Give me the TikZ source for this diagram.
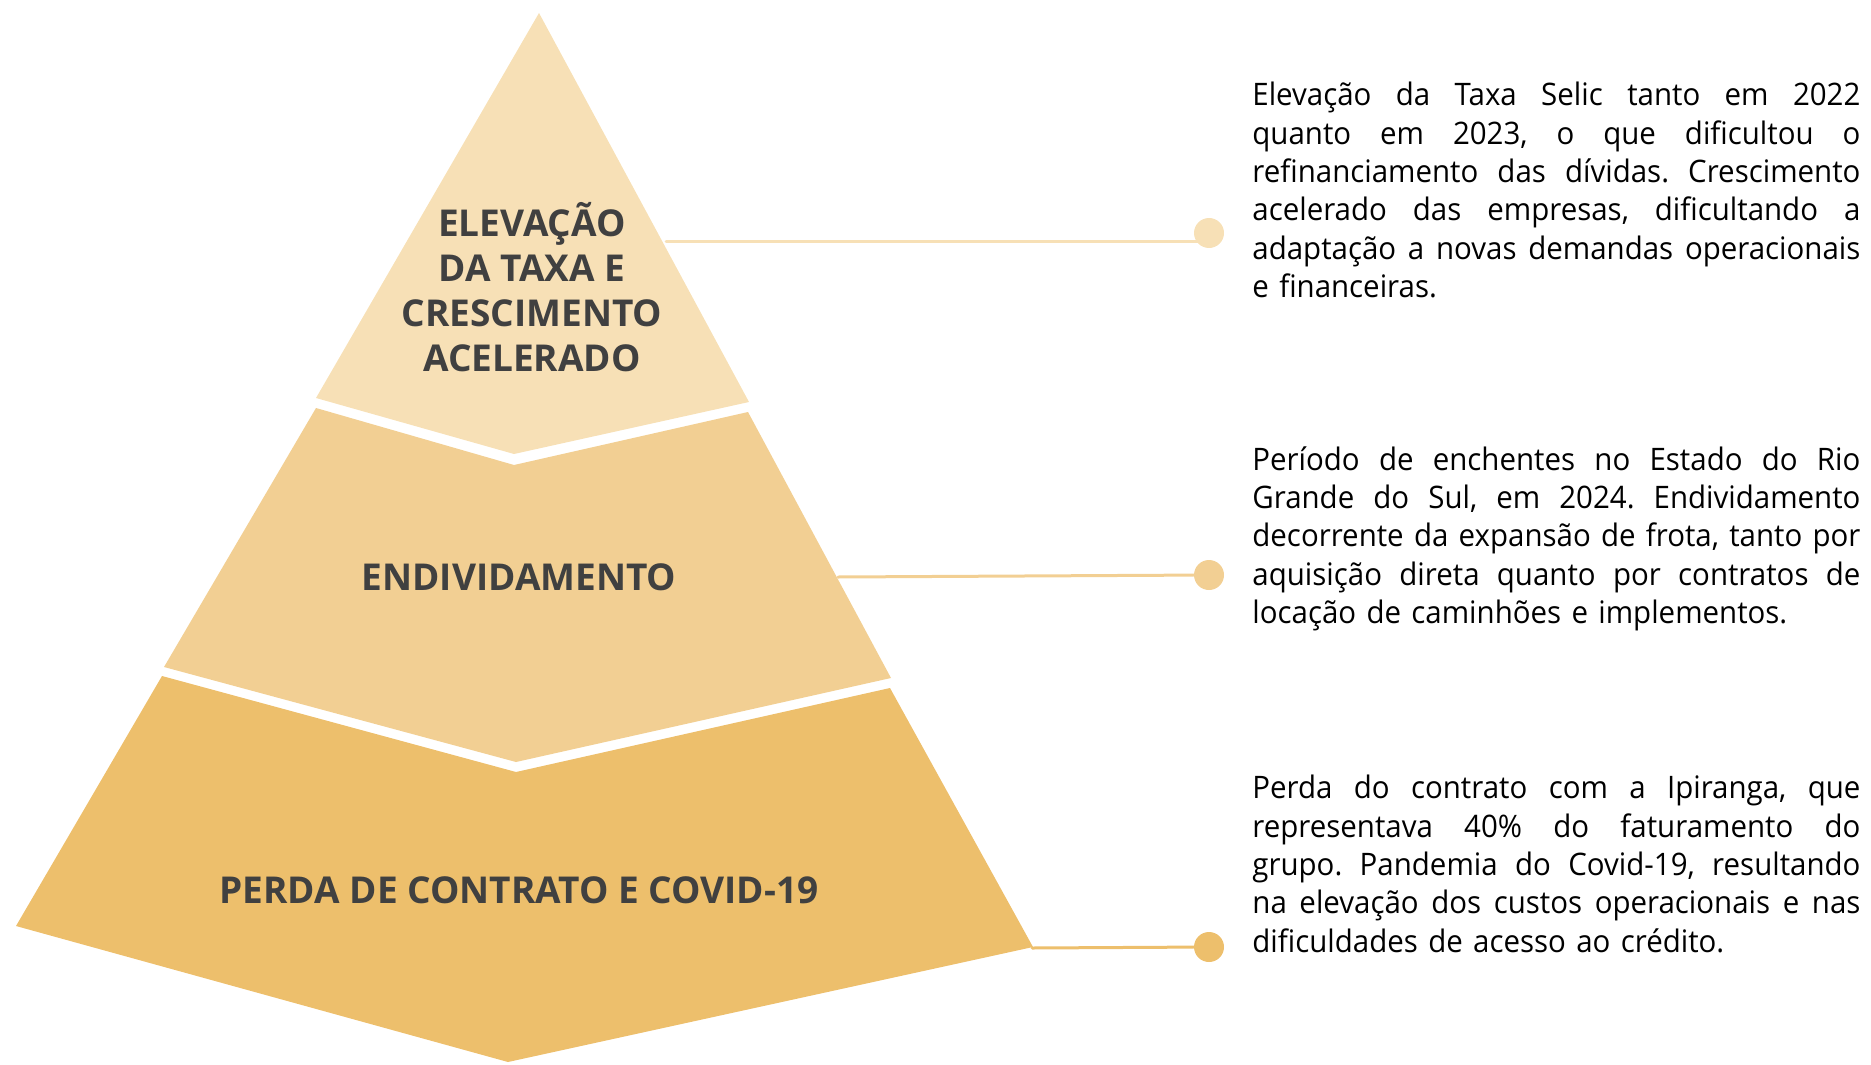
\documentclass[tikz,border=0pt]{standalone}
\usepackage{fontspec}
\setmainfont{Open Sans}
\newfontfamily\notefont[FakeStretch=0.95]{Open Sans}
\definecolor{tiertop}{HTML}{F7E0B6}
\definecolor{tiermid}{HTML}{F2CF93}
\definecolor{tierbot}{HTML}{EDBF6C}
\definecolor{labelgray}{HTML}{404040}
\newlength{\notewidth}
\setlength{\notewidth}{304pt}
\newcommand{\jline}[1]{\makebox[\notewidth][s]{\spaceskip=0pt\xspaceskip=0pt #1}\\}
\frenchspacing

\begin{document}
\begin{tikzpicture}[x=0.5pt, y=-0.5pt, line cap=round, line join=round,
    tierlabel/.style={font=\fontsize{18.5}{22.4}\selectfont\bfseries, text=labelgray, align=center, inner sep=0pt},
    notetext/.style={anchor=north west, inner sep=0pt, text width=\notewidth, align=left, font=\notefont\fontsize{15.5}{19.15}\selectfont},
    bullet/.style={circle, inner sep=0pt, minimum size=15pt},
    link/.style={line width=1.5pt}]

    \useasboundingbox (0,0) rectangle (1871,1064);

    % pyramid tiers
    \fill[tiertop] (539,13) -- (749,402) -- (514,454) -- (316,398) -- cycle;
    \fill[tiermid] (316,408) -- (514,465) -- (748,412) -- (891,678) -- (516,762) -- (164,667) -- cycle;
    \fill[tierbot] (162,676) -- (516,772) -- (890,688) -- (1033,947) -- (508,1062) -- (16,926) -- cycle;

    \node[tierlabel] (taxa) at (532,287) {ELEVAÇÃO\\DA TAXA E\\CRESCIMENTO\\ACELERADO};
    \node[tierlabel] (endiv) at (519,577) {ENDIVIDAMENTO};
    \node[tierlabel] (perda) at (519,890) {PERDA DE CONTRATO E COVID-19};

    % connectors
    \coordinate (taxa-end) at (666,241);
    \coordinate (endiv-end) at (838,577);
    \coordinate (perda-end) at (1032,948);

    \node[bullet, fill=tiertop] (taxa-dot) at (1209,233) {};
    \node[bullet, fill=tiermid] (endiv-dot) at (1209,575) {};
    \node[bullet, fill=tierbot] (perda-dot) at (1209,947) {};

    \draw[link, tiertop] (taxa-end) -- (taxa-end -| taxa-dot.center);
    \draw[link, tiermid] (endiv-end) -- (endiv-dot);
    \draw[link, tierbot] (perda-end) -- (perda-dot);

    % notes
    \node[notetext] (taxa-note) at (1252,82) {%
        \jline{Elevação da Taxa Selic tanto em 2022}
        \jline{quanto em 2023, o que dificultou o}
        \jline{refinanciamento das dívidas. Crescimento}
        \jline{acelerado das empresas, dificultando a}
        \jline{adaptação a novas demandas operacionais}
        e financeiras.};
    \node[notetext] (endiv-note) at (1252,446) {%
        \jline{Período de enchentes no Estado do Rio}
        \jline{Grande do Sul, em 2024. Endividamento}
        \jline{decorrente da expansão de frota, tanto por}
        \jline{aquisição direta quanto por contratos de}
        locação de caminhões e implementos.};
    \node[notetext] (perda-note) at (1252,775) {%
        \jline{Perda do contrato com a Ipiranga, que}
        \jline{representava 40\% do faturamento do}
        \jline{grupo. Pandemia do Covid-19, resultando}
        \jline{na elevação dos custos operacionais e nas}
        dificuldades de acesso ao crédito.};
\end{tikzpicture}
\end{document}
